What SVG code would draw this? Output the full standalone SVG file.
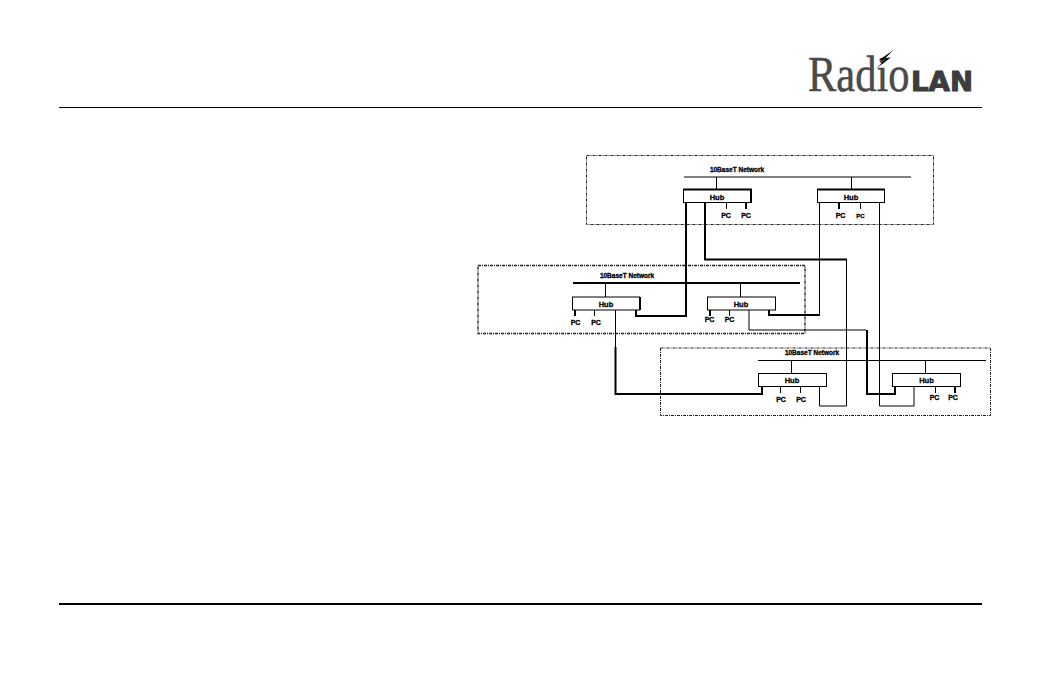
<svg xmlns="http://www.w3.org/2000/svg" width="1040" height="673" viewBox="0 0 1040 673">
  <style>
    text { font-family: "Liberation Sans", Arial, sans-serif; fill: #000; stroke: #000; stroke-width: 0.3; text-anchor: middle; }
    .net { font-size: 6.5px; font-weight: bold; }
    .hub { font-size: 7.5px; font-weight: bold; }
    .pc { font-size: 7px; font-weight: bold; }
    .zone { fill: none; stroke: #222; stroke-width: 1; stroke-dasharray: 3 1 1 1; }
    .box { fill: #fff; stroke: #000; stroke-width: 1; }
    .thin { fill: none; stroke: #000; stroke-width: 1; }
    .thick { fill: none; stroke: #000; stroke-width: 2; }
    .rule { stroke: #000; fill: none; }
  </style>

  <!-- page rules -->
  <line class="rule" x1="59" y1="107.500" x2="982" y2="107.500" stroke-width="1"/>
  <line class="rule" x1="59" y1="604" x2="982" y2="604" stroke-width="2"/>

  <!-- brand mark -->
  <g id="logo">
    <text transform="translate(808 91) scale(.85 1)" style="font-family:'Liberation Serif',serif;text-anchor:start;fill:#4a4a4a;stroke:#4a4a4a;stroke-width:0.5" font-size="50">Radio</text>
    <text x="911" y="90.500" style="font-family:'DejaVu Sans',sans-serif;text-anchor:start;fill:#3c3c3c;stroke:#3c3c3c;stroke-width:1;font-weight:bold" font-size="26" textLength="62" lengthAdjust="spacingAndGlyphs">LAN</text>
    <polygon points="893.500,50 879,60 885.500,59.500 876,68.500 891,57.500 885.500,58" fill="#000"/>
  </g>

  <!-- network zones -->
  <g id="zones">
    <rect class="zone" x="586.500" y="155.500" width="347" height="69"/>
    <rect class="zone" style="stroke-width:1.4" x="478" y="265.500" width="327" height="68"/>
    <rect class="zone" x="660.500" y="348" width="330" height="67.500"/>
  </g>

  <!-- cabling between hubs and zones -->
  <g id="connectors">
    <!-- backbone segments -->
    <path class="thin" d="M684 177H911"/>
    <path class="thick" d="M573 283H800"/>
    <path class="thin" d="M758 360.500H986"/>
    <!-- hub uplinks -->
    <path class="thin" d="M716.500 177V190M851.500 177V190M605.500 283V297M740.500 283V297M791.500 360.500V373M925.500 360.500V373"/>
    <!-- PC drops -->
    <path class="thin" d="M726.500 203V209M860.500 203V209M594.500 310V316M729.500 310V316M780.500 387V393M800.500 387V393M935.500 387V393"/>
    <path class="thick" d="M746 203V209M839 203V209M575 310V316M710 310V316M955 387V393"/>
    <!-- links crossing between zones -->
    <path class="thick" d="M686 203V316H636V310"/>
    <path class="thick" d="M705 203V259.500H847"/>
    <path class="thin" d="M846.500 259.500V406H819.500V387"/>
    <path class="thin" d="M819.500 203V314"/>
    <path class="thick" d="M820 315H769V310"/>
    <path class="thin" d="M879.500 203V406H914V387"/>
    <path class="thin" d="M749 310V330H866"/>
    <path class="thick" d="M867 330V394H895V387"/>
    <path class="thin" d="M615.500 310V347"/>
    <path class="thick" d="M615.500 347V394H762V387"/>
  </g>

  <!-- 10BaseT network, top -->
  <text class="net" x="737" y="171.500">10BaseT Network</text>
  <g id="hub-a1">
    <rect class="box" x="683.500" y="189.500" width="67" height="13"/>
    <path class="thick" d="M683 189.500H751V203"/>
    <text class="hub" x="717" y="199.500">Hub</text>
    <text class="pc" x="726" y="218">PC</text>
    <text class="pc" x="746" y="218">PC</text>
  </g>
  <g id="hub-a2">
    <rect class="box" x="817.500" y="189.500" width="67" height="13"/>
    <path class="thick" d="M817 189.500H885"/>
    <text class="hub" x="851" y="199.500">Hub</text>
    <text class="pc" x="840.500" y="218">PC</text>
    <text class="pc" style="font-size:6px" x="860.500" y="218">PC</text>
  </g>

  <!-- 10BaseT network, middle -->
  <text class="net" x="627" y="278">10BaseT Network</text>
  <g id="hub-b1">
    <rect class="box" x="572.500" y="297" width="67" height="13"/>
    <path class="thick" d="M640 297V310"/>
    <text class="hub" x="606" y="306.500">Hub</text>
    <text class="pc" x="575.500" y="325">PC</text>
    <text class="pc" x="596" y="325">PC</text>
  </g>
  <g id="hub-b2">
    <rect class="box" x="707.500" y="297" width="68" height="13"/>
    <text class="hub" x="741" y="306.500">Hub</text>
    <text class="pc" x="709.500" y="321.500">PC</text>
    <text class="pc" x="729.500" y="321.500">PC</text>
  </g>

  <!-- 10BaseT network, bottom -->
  <text class="net" x="812" y="355">10BaseT Network</text>
  <g id="hub-c1">
    <rect class="box" x="758.500" y="373.500" width="68" height="13"/>
    <text class="hub" x="792" y="382.500">Hub</text>
    <text class="pc" x="781" y="402">PC</text>
    <text class="pc" x="801" y="402">PC</text>
  </g>
  <g id="hub-c2">
    <rect class="box" x="892.500" y="373.500" width="68" height="13"/>
    <text class="hub" x="926.500" y="382.500">Hub</text>
    <text class="pc" x="934.500" y="400">PC</text>
    <text class="pc" x="953" y="400">PC</text>
  </g>
</svg>
